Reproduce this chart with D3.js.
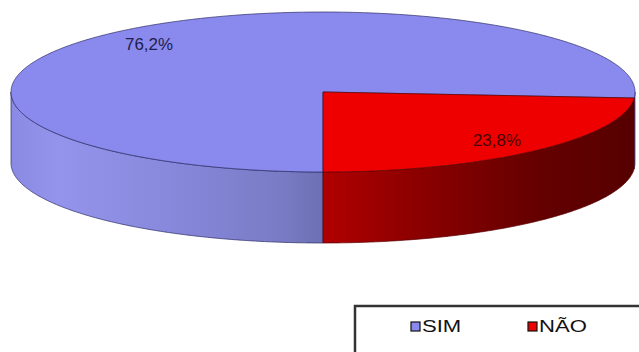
<!DOCTYPE html>
<html>
<head>
<meta charset="utf-8">
<script src="https://cdn.jsdelivr.net/npm/d3@7"></script>
<style>
  html, body { margin: 0; padding: 0; background: #fff; }
  svg { display: block; }
</style>
</head>
<body>
<svg id="chart" width="639" height="352"></svg>
<script>
// Answers and their shares (%)
const categories = ["SIM", "NÃO"];
const values = [76.2, 23.8];
const labels = ["76,2%", "23,8%"];
const topColors = ["#8a8aee", "#ee0000"];
const edgeColors = ["#2b2b66", "#5a0000"];

const svg = d3.select("#chart");

// Ellipse geometry of the tilted pie
const cx = 323, cy = 92, rx = 312, ry = 80, depth = 71;

const pie = d3.pie().sort(null).value(d => d).startAngle(Math.PI).endAngle(3 * Math.PI);
const arcs = pie(values);

const px = a => cx + rx * Math.sin(a);
const py = (a, dz = 0) => cy - ry * Math.cos(a) + dz;

function arcPoints(a0, a1, dz) {
  const n = Math.max(2, Math.ceil(Math.abs(a1 - a0) / 0.01));
  const pts = [];
  for (let i = 0; i <= n; i++) {
    const a = a0 + (a1 - a0) * i / n;
    pts.push([px(a), py(a, dz)]);
  }
  return pts;
}

function topPath(d) {
  const pts = arcPoints(d.startAngle, d.endAngle, 0);
  return "M" + cx + "," + cy + "L" + pts.map(p => p.join(",")).join("L") + "Z";
}

// Front-facing wall pieces: angles between east (π/2) and west (3π/2), mod 2π
function wallSegments(d) {
  const segs = [];
  for (let k = -1; k <= 2; k++) {
    const lo = Math.PI / 2 + 2 * Math.PI * k, hi = 3 * Math.PI / 2 + 2 * Math.PI * k;
    const a0 = Math.max(d.startAngle, lo), a1 = Math.min(d.endAngle, hi);
    if (a1 > a0) segs.push([a0, a1]);
  }
  return segs;
}

function wallPath(a0, a1) {
  const top = arcPoints(a0, a1, 0);
  const bot = arcPoints(a1, a0, depth);
  return "M" + top.map(p => p.join(",")).join("L") + "L" + bot.map(p => p.join(",")).join("L") + "Z";
}

// Horizontal shading gradients for the walls
const defs = svg.append("defs");
const gBlue = defs.append("linearGradient").attr("id", "wall0")
  .attr("gradientUnits", "userSpaceOnUse").attr("x1", cx - rx).attr("x2", cx).attr("y1", 0).attr("y2", 0);
[[0, "#8a8ae4"], [0.15, "#9494ec"], [0.5, "#8888dc"], [0.85, "#7a7cc6"], [1, "#6e70b4"]]
  .forEach(([o, c]) => gBlue.append("stop").attr("offset", o).attr("stop-color", c));
const gRed = defs.append("linearGradient").attr("id", "wall1")
  .attr("gradientUnits", "userSpaceOnUse").attr("x1", cx).attr("x2", cx + rx).attr("y1", 0).attr("y2", 0);
[[0, "#b00000"], [0.3, "#8c0000"], [0.7, "#640000"], [1, "#560000"]]
  .forEach(([o, c]) => gRed.append("stop").attr("offset", o).attr("stop-color", c));

const g = svg.append("g");

// Walls first
arcs.forEach((d, i) => {
  wallSegments(d).forEach(([a0, a1]) => {
    g.append("path")
      .attr("d", wallPath(a0, a1))
      .attr("fill", `url(#wall${i})`)
      .attr("stroke", edgeColors[i])
      .attr("stroke-width", 0.7)
      .attr("stroke-linejoin", "round");
  });
});

// Top faces
g.selectAll("path.top").data(arcs).join("path")
  .attr("class", "top")
  .attr("d", topPath)
  .attr("fill", (d, i) => topColors[i])
  .attr("stroke", (d, i) => edgeColors[i])
  .attr("stroke-width", 0.7)
  .attr("stroke-linejoin", "round");

// Percentage labels
const lf = 0.82;
g.selectAll("text.val").data(arcs).join("text")
  .attr("class", "val")
  .attr("x", d => cx + rx * lf * Math.sin((d.startAngle + d.endAngle) / 2))
  .attr("y", d => cy - ry * lf * Math.cos((d.startAngle + d.endAngle) / 2))
  .attr("text-anchor", "middle")
  .attr("dominant-baseline", "central")
  .attr("font-family", "Liberation Sans, Arial, sans-serif")
  .attr("font-size", 16)
  .attr("transform", d => {
    const x = cx + rx * lf * Math.sin((d.startAngle + d.endAngle) / 2);
    return `translate(${x},0) scale(1.06,1) translate(${-x},0)`;
  })
  .attr("fill", (d, i) => i === 0 ? "#1e1e4a" : "#4a0000")
  .text((d, i) => labels[i]);

// Legend
const leg = svg.append("g");
leg.append("rect")
  .attr("x", 355).attr("y", 306).attr("width", 300).attr("height", 60)
  .attr("fill", "#fff").attr("stroke", "#333").attr("stroke-width", 2.5);

const legX = [411, 528];
categories.forEach((c, i) => {
  leg.append("rect")
    .attr("x", legX[i]).attr("y", 322).attr("width", 9).attr("height", 9)
    .attr("fill", topColors[i]).attr("stroke", "#111").attr("stroke-width", 1.2);
  const tx = legX[i] + 11;
  leg.append("text")
    .attr("x", tx).attr("y", 332)
    .attr("transform", `translate(${tx},0) scale(1.3,1) translate(${-tx},0)`)
    .attr("font-family", "Liberation Sans, Arial, sans-serif")
    .attr("font-size", 17)
    .attr("fill", "#111")
    .text(c);
});
</script>
</body>
</html>
